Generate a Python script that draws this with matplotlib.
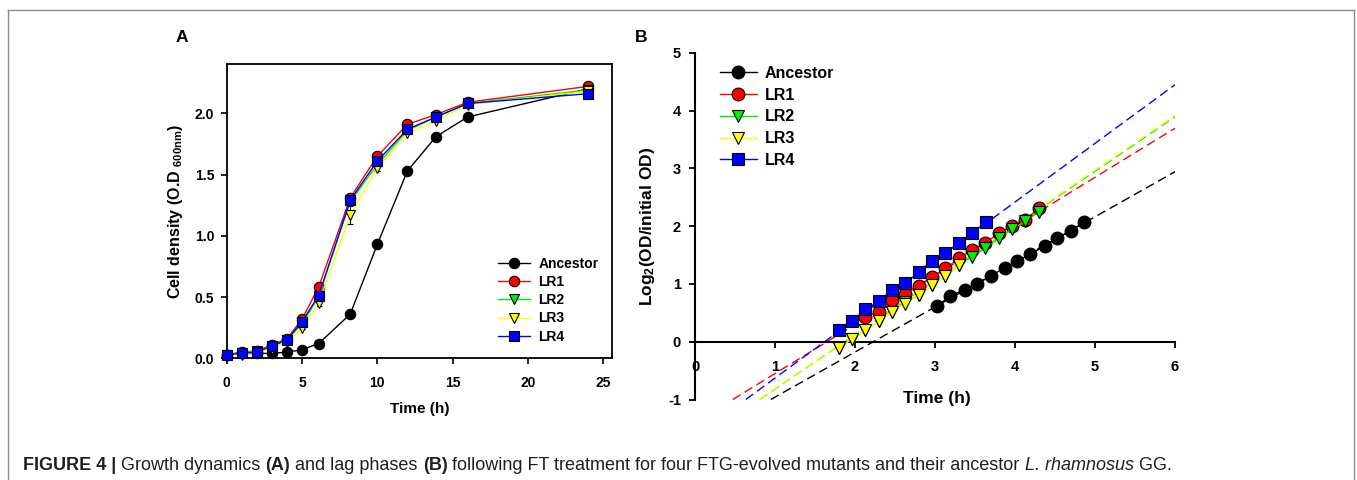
import matplotlib
matplotlib.use("Agg")
import numpy as np
import matplotlib.pyplot as plt
from matplotlib.lines import Line2D

plt.rcParams['font.family'] = ['Liberation Sans', 'DejaVu Sans']
plt.rcParams['mathtext.fontset'] = 'custom'
plt.rcParams['mathtext.bf'] = 'Liberation Sans:bold'
plt.rcParams['mathtext.rm'] = 'Liberation Sans:bold'
plt.rcParams['mathtext.default'] = 'bf'
plt.rcParams['axes.unicode_minus'] = False

# ---- panel A: growth curves (OD600) ----
time_a = [0, 1, 2, 3, 4, 5, 6.1, 8.2, 10, 12, 13.9, 16, 24]
anc_a = [0.03, 0.04, 0.04, 0.04, 0.05, 0.07, 0.12, 0.36, 0.93, 1.53, 1.81, 1.97, 2.20]
lr1_a = [0.03, 0.05, 0.06, 0.11, 0.16, 0.32, 0.58, 1.31, 1.65, 1.91, 1.99, 2.09, 2.22]
lr2_a = [0.03, 0.04, 0.06, 0.10, 0.15, 0.28, 0.50, 1.28, 1.58, 1.86, 1.97, 2.08, 2.19]
lr3_a = [0.03, 0.03, 0.05, 0.08, 0.13, 0.25, 0.45, 1.17, 1.55, 1.84, 1.94, 2.07, 2.18]
lr4_a = [0.03, 0.04, 0.05, 0.10, 0.15, 0.30, 0.51, 1.29, 1.61, 1.87, 1.97, 2.08, 2.16]
lr3_err = [0, 0, 0, 0, 0, 0.01, 0.02, 0.07, 0.02, 0.01, 0.01, 0.01, 0.02]
lr4_err = [0, 0, 0, 0, 0, 0, 0.01, 0.02, 0.01, 0.01, 0.01, 0.01, 0.03]

# ---- panel B: log2(OD/initial OD) during exponential phase ----
anc_t = [3.03, 3.19, 3.37, 3.53, 3.70, 3.87, 4.03, 4.19, 4.37, 4.53, 4.70, 4.86]
anc_b = [0.62, 0.79, 0.90, 1.00, 1.14, 1.28, 1.40, 1.51, 1.66, 1.79, 1.92, 2.07]
lr1_t = [2.13, 2.30, 2.46, 2.63, 2.80, 2.96, 3.13, 3.30, 3.46, 3.63, 3.80, 3.96, 4.13, 4.30]
lr1_b = [0.43, 0.52, 0.72, 0.83, 0.97, 1.12, 1.27, 1.44, 1.59, 1.71, 1.88, 2.01, 2.11, 2.31]
lr2_t = [1.80, 1.96, 2.13, 2.30, 2.46, 2.63, 2.80, 2.96, 3.13, 3.30, 3.46, 3.63, 3.80, 3.96, 4.13, 4.30]
lr2_b = [-0.11, 0.05, 0.20, 0.35, 0.52, 0.68, 0.81, 0.98, 1.13, 1.33, 1.47, 1.62, 1.79, 1.95, 2.08, 2.25]
lr3_t = [1.80, 1.96, 2.13, 2.30, 2.46, 2.63, 2.80, 2.96, 3.13, 3.30]
lr3_b = [-0.11, 0.05, 0.20, 0.35, 0.52, 0.66, 0.81, 0.98, 1.13, 1.33]
lr4_t = [1.80, 1.96, 2.13, 2.30, 2.46, 2.63, 2.80, 2.96, 3.13, 3.30, 3.46, 3.64]
lr4_b = [0.20, 0.35, 0.56, 0.70, 0.89, 1.01, 1.21, 1.40, 1.54, 1.71, 1.88, 2.07]

# linear fits (slope, x-intercept) for each strain
fit_slope = [0.78, 0.849, 0.942, 0.945, 1.015]
fit_x0 = [2.23, 1.65, 1.87, 1.86, 1.62]

labels = ["Ancestor", "LR1", "LR2", "LR3", "LR4"]
colors = ["black", "#ff0000", "#00ee00", "#ffff00", "#0000ff"]
markers = ["o", "o", "v", "v", "s"]

W, H = 1357, 480
fig = plt.figure(figsize=(W / 100, H / 100), dpi=100)

# outer frame of the figure panel
frame_kw = dict(color="#8c8c8c", lw=1.0, transform=fig.transFigure)
fig.add_artist(Line2D([8 / W, 8 / W], [0, 1 - 10 / H], **frame_kw))
fig.add_artist(Line2D([8 / W, 1354 / W], [1 - 10 / H, 1 - 10 / H], **frame_kw))
fig.add_artist(Line2D([1354 / W, 1354 / W], [0, 1 - 10 / H], **frame_kw))

# ===================== A =====================
ax1 = fig.add_axes([226.7 / W, 121.7 / H, 385 / W, 294 / H])
series_a = [anc_a, lr1_a, lr2_a, lr3_a, lr4_a]
errs_a = [None, None, None, lr3_err, lr4_err]
for i in range(5):
    if errs_a[i] is not None:
        ax1.errorbar(time_a, series_a[i], yerr=errs_a[i], fmt="none", ecolor="black",
                     elinewidth=0.8, capsize=2.5, capthick=0.8, clip_on=False,
                     zorder=2.5 + i)
    ax1.plot(time_a, series_a[i], color=colors[i], lw=1.0, marker=markers[i], ms=7.5,
             mfc=colors[i], mec="black", mew=0.8, label=labels[i], clip_on=False,
             zorder=3 + i)
ax1.set_xlim(0, 25.56)
ax1.set_ylim(0, 2.40)
ax1.set_xticks([0, 5, 10, 15, 20, 25])
ax1.set_yticks([0.0, 0.5, 1.0, 1.5, 2.0])
ax1.set_yticklabels(["0.0", "0.5", "1.0", "1.5", "2.0"])
for s in ax1.spines.values():
    s.set_linewidth(1.3)
ax1.tick_params(direction="out", length=4.5, width=1.2, labelsize=10)
ax1.tick_params(axis="x", pad=8)
ax1.tick_params(axis="y", pad=4.5)
for lab in ax1.get_xticklabels() + ax1.get_yticklabels():
    lab.set_fontweight("bold")
ax1.set_xlabel("Time (h)", fontsize=11, fontweight="bold")
ax1.xaxis.set_label_coords(0.502, -0.149)
ax1.set_ylabel(r"Cell density (O.D $_{600nm}$)", fontsize=11.5, fontweight="bold")
ax1.yaxis.set_label_coords(-0.134, 0.5)
ax1.yaxis.label.set_va("center")

h1, l1 = ax1.get_legend_handles_labels()
ax1.legend(h1, l1, loc="upper left", bbox_to_anchor=(498 / W, 1 - 257 / H),
           bbox_transform=fig.transFigure, frameon=False, borderpad=0,
           borderaxespad=0, handlelength=2.3, handletextpad=0.6,
           labelspacing=0.3, prop={"weight": "bold", "size": 10})

# ===================== B =====================
ax2 = fig.add_axes([690.2 / W, 80.5 / H, 484.8 / W, 346.8 / H])
times_b = [anc_t, lr1_t, lr2_t, lr3_t, lr4_t]
series_b = [anc_b, lr1_b, lr2_b, lr3_b, lr4_b]
for i in range(5):
    x_start = fit_x0[i] - 1.0 / fit_slope[i]
    xs = np.array([x_start, 6.0])
    ax2.plot(xs, fit_slope[i] * (xs - fit_x0[i]), color=colors[i], lw=1.0,
             linestyle=(0, (6.5, 3.5)), zorder=2)
for i in range(5):
    ax2.plot(times_b[i], series_b[i], color=colors[i], lw=1.0, marker=markers[i],
             ms=9.2, mfc=colors[i], mec="black", mew=0.8, label=labels[i],
             clip_on=False, zorder=3 + i)
ax2.set_xlim(-0.06, 6.0)
ax2.set_ylim(-1, 5)
ax2.spines["top"].set_visible(False)
ax2.spines["right"].set_visible(False)
ax2.spines["left"].set_position(("data", 0))
ax2.spines["bottom"].set_position(("data", 0))
ax2.spines["left"].set_linewidth(1.5)
ax2.spines["bottom"].set_linewidth(1.5)
ax2.set_xticks([0, 1, 2, 3, 4, 5, 6])
ax2.set_yticks([-1, 0, 1, 2, 3, 4, 5])
ax2.tick_params(direction="out", length=4, width=1.3, labelsize=10.5)
ax2.tick_params(axis="x", pad=9.5)
ax2.tick_params(axis="y", pad=6)
for lab in ax2.get_xticklabels() + ax2.get_yticklabels():
    lab.set_fontweight("bold")
ax2.set_xlabel("Time (h)", fontsize=12.5, fontweight="bold")
ax2.xaxis.set_label_coords(0.509, 0.0245)
ax2.set_ylabel(r"Log$_2$(OD/initial OD)", fontsize=12.5, fontweight="bold")
ax2.yaxis.set_label_coords(-0.088, 0.5)
ax2.yaxis.label.set_va("center")

h2, l2 = ax2.get_legend_handles_labels()
ax2.legend(h2, l2, loc="upper left", bbox_to_anchor=(720 / W, 1 - 66 / H),
           bbox_transform=fig.transFigure, frameon=False, borderpad=0,
           borderaxespad=0, handlelength=2.3, handletextpad=0.5,
           labelspacing=0.42, prop={"weight": "bold", "size": 11.5})

# panel letters
fig.text(182 / W, 1 - 37 / H, "A", fontsize=12.5, fontweight="bold", ha="center", va="center")
fig.text(641 / W, 1 - 37 / H, "B", fontsize=12.5, fontweight="bold", ha="center", va="center")

# caption, built from pieces of different styles
caption = [
    ("FIGURE 4 | ", "bold", "normal"),
    ("Growth dynamics ", "normal", "normal"),
    ("(A)", "bold", "normal"),
    (" and lag phases ", "normal", "normal"),
    ("(B)", "bold", "normal"),
    (" following FT treatment for four FTG-evolved mutants and their ancestor ", "normal", "normal"),
    ("L. rhamnosus", "normal", "italic"),
    (" GG.", "normal", "normal"),
]
renderer = fig.canvas.get_renderer()
x_px = 23
for txt, wt, st in caption:
    t = fig.text(x_px / W, 9.5 / H, txt, fontsize=13.0, fontweight=wt, fontstyle=st,
                 ha="left", va="baseline", color="#231f20")
    x_px += t.get_window_extent(renderer).width

fig.savefig("out.png", dpi=100)
